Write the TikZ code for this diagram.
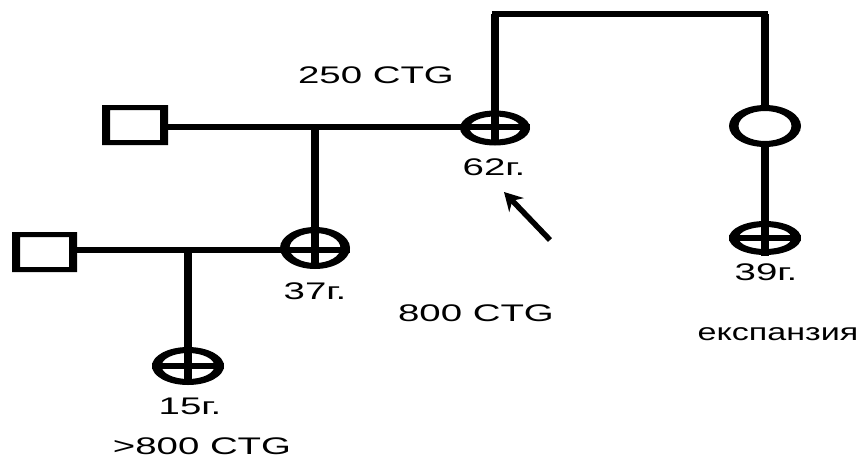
\documentclass[tikz,border=0pt]{standalone}
\usepackage{fontspec}
\setmainfont{Liberation Sans}
\newfontfamily\lblfont[FakeStretch=1.6]{Liberation Sans}
\newfontfamily\expfont[FakeStretch=1.42]{Liberation Sans}
\usetikzlibrary{arrows.meta,calc}
\begin{document}
\begin{tikzpicture}[x=1pt,y=-1pt,
  hl/.style={line width=5.5pt},
  vl/.style={line width=7.5pt},
  lbl/.style={font=\lblfont\fontsize{24}{26}\selectfont, inner sep=0pt, anchor=center},
  ring/.style={fill=black, even odd rule}]
\useasboundingbox (0,0) rectangle (858,461);
% coordinates
\coordinate (c62) at (495,128);
\coordinate (c37) at (315,248);
\coordinate (c15) at (188,366);
\coordinate (cE) at (765,126);
\coordinate (c39) at (765,238);
\coordinate (sqA) at (168,127);
\coordinate (sqB) at (77,250);
\coordinate (topL) at (495,14);
\coordinate (topR) at (765,14);
% squares
\fill[ring] (102,105) rectangle (168,145) (110,110) rectangle (160,140);
\fill[ring] (12,232) rectangle (77,272) (20,237) rectangle (69,267);
% lines
\draw[hl, line cap=rect] (topL) -- (topR);
\draw[vl] (topL) -- ($(c62)+(0,17)$);
\draw[vl] (topR) -- ($(cE)+(0,-21)$);
\draw[hl] (sqA) -- ($(c62|-sqA)+(35,0)$);
\draw[vl] (c37|-sqA) -- ($(c37)+(0,21)$);
\draw[hl] (sqB) -- ($(c37|-sqB)+(35,0)$);
\draw[vl] (c15|-sqB) -- ($(c15)+(0,19)$);
\draw[vl] ($(cE)+(0,21)$) -- ($(c39)+(0,18)$);
\draw[hl] ($(c15)+(-36,0)$) -- ($(c15)+(36,0)$);
\draw[hl] ($(c39)+(-36,0)$) -- ($(c39)+(36,0)$);
% rings
\fill[ring] (c62) ellipse (35 and 17.5) (c62) ellipse (25.5 and 11.5);
\fill[ring] (c37) ellipse (35 and 21) (c37) ellipse (25.5 and 15);
\fill[ring] (c15) ellipse (36 and 19) (c15) ellipse (26.5 and 13);
\fill[ring] (cE) ellipse (36 and 21) (cE) ellipse (26.5 and 15);
\fill[ring] (c39) ellipse (36 and 17) (c39) ellipse (26.5 and 11);
% labels
\node[lbl] (t250) at (376,75) {250 CTG};
\node[lbl] (t62) at (494,167) {62г.};
\node[lbl] (t37) at (315,291) {37г.};
\node[lbl] (t800) at (476,313) {800 CTG};
\node[lbl] (t15) at (190,406) {15г.};
\node[lbl] (tgt) at (202,446) {>800 CTG};
\node[lbl] (t39) at (766,272) {39г.};
\node[lbl, font=\expfont\fontsize{24}{26}\selectfont] (texp) at (778,334) {експанзия};
% arrow
\coordinate (aT) at (550,240);
\coordinate (aH) at (504,192);
\draw[line width=5.5pt, -{Stealth[length=18pt,width=20pt,inset=6pt]}] (aT) -- (aH);
\end{tikzpicture}
\end{document}
